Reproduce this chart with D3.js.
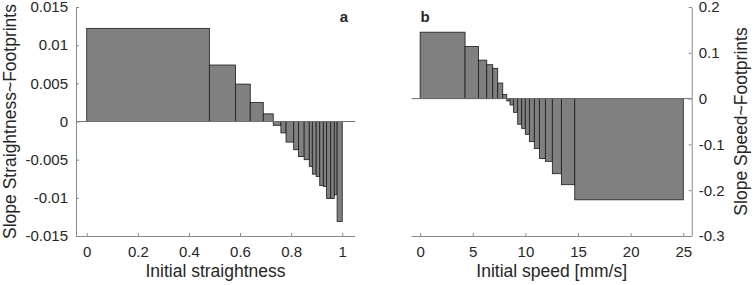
<!DOCTYPE html>
<html lang="en">
<head>
    <meta charset="UTF-8">
    <title>Slopes</title>
    <script src="https://d3js.org/d3.v7.min.js"></script>
    <style>
        body {margin: 0; background: white;}
        text {font-family: "Liberation Sans", Arial, sans-serif; fill: #262626;}
        .axis path, .axis line {stroke: #8a8a8a;}
        .axis text {font-size: 15px; fill: #262626; font-family: "Liberation Sans", Arial, sans-serif;}
    </style>
</head>
<body>
<script>
    const width = 753;
    const height = 285;

    // panel a: bin edges along initial straightness and slope per bin
    const aEdges = [0, 0.48, 0.582, 0.64, 0.691, 0.730, 0.760, 0.780, 0.810, 0.829, 0.851,
                    0.871, 0.883, 0.898, 0.912, 0.926, 0.939, 0.955, 0.969, 0.980, 1.0];
    const aValues = [0.0122, 0.0074, 0.0049, 0.0025, 0.001, -0.0005, -0.0015, -0.0027, -0.0037, -0.0046,
                     -0.0050, -0.0059, -0.0069, -0.0072, -0.0084, -0.0085, -0.0101, -0.0101, -0.0096, -0.0131];
    const aXTicks = [0, 0.2, 0.4, 0.6, 0.8, 1];
    const aYTicks = [-0.015, -0.01, -0.005, 0, 0.005, 0.01, 0.015];

    // panel b: bin edges along initial speed and slope per bin
    const bEdges = [0, 4.27, 5.54, 6.33, 6.90, 7.37, 7.85, 8.23, 8.54, 8.86, 9.27,
                    9.65, 9.99, 10.38, 10.85, 11.33, 11.9, 12.56, 13.42, 14.69, 25.0];
    const bValues = [0.145, 0.114, 0.084, 0.074, 0.066, 0.034, 0.009, -0.005, -0.014, -0.030,
                     -0.056, -0.065, -0.078, -0.094, -0.109, -0.131, -0.137, -0.164, -0.188, -0.221];
    const bXTicks = [0, 5, 10, 15, 20, 25];
    const bYTicks = [-0.3, -0.2, -0.1, 0, 0.1, 0.2];

    const svg = d3.select("body").append("svg")
            .attr("width", width).attr("height", height);

    const plotTop = 7, plotBottom = 236;
    const fmt = d => String(d);   // plain hyphen minus, like matlab

    function bins(edges, values) {
        return values.map((v, i) => ({x0: edges[i], x1: edges[i + 1], v: v}));
    }

    function panel(opts) {
        const x = d3.scaleLinear().domain(opts.xDomain).range([opts.left, opts.right]);
        const y = d3.scaleLinear().domain(opts.yDomain).range([plotBottom, plotTop]);

        const g = svg.append("g");

        g.selectAll("rect.bar")
                .data(bins(opts.edges, opts.values))
                .enter()
                .append("rect")
                .attr("class", "bar")
                .attr("x", d => x(d.x0))
                .attr("width", d => x(d.x1) - x(d.x0))
                .attr("y", d => y(Math.max(0, d.v)))
                .attr("height", d => Math.abs(y(d.v) - y(0)))
                .style("fill", "#808080")
                .style("stroke", "#1a1a1a")
                .style("stroke-width", 0.8);

        // baseline
        g.append("line")
                .attr("x1", opts.left).attr("x2", opts.right)
                .attr("y1", y(0)).attr("y2", y(0))
                .style("stroke", "#707070").style("stroke-width", 1);

        g.append("g").attr("class", "axis")
                .attr("transform", `translate(0,${plotBottom})`)
                .call(d3.axisBottom(x).tickValues(opts.xTicks).tickFormat(fmt)
                        .tickSizeInner(-3).tickSizeOuter(0).tickPadding(10))
                .call(a => a.select(".domain").attr("d", `M${opts.left},0.5H${opts.right}`));

        const yAxis = opts.side === "left" ? d3.axisLeft(y) : d3.axisRight(y);
        g.append("g").attr("class", "axis")
                .attr("transform", `translate(${opts.side === "left" ? opts.left : opts.right},0)`)
                .call(yAxis.tickValues(opts.yTicks).tickFormat(fmt).tickSizeInner(-3).tickSizeOuter(0)
                        .tickPadding(opts.side === "left" ? 8 : 7));

        g.append("text")
                .attr("x", (opts.left + opts.right) / 2)
                .attr("y", 277)
                .attr("text-anchor", "middle")
                .style("font-size", "17.5px")
                .text(opts.xLabel);

        g.append("text")
                .attr("transform", `translate(${opts.yLabelX},${(plotTop + plotBottom) / 2}) rotate(-90)`)
                .attr("text-anchor", "middle")
                .style("font-size", "17.5px")
                .text(opts.yLabel);

        g.append("text")
                .attr("x", opts.tagX).attr("y", 22)
                .attr("text-anchor", "middle")
                .style("font-size", "15px").style("font-weight", "bold")
                .text(opts.tag);
    }

    panel({
        left: 76, right: 355, xDomain: [-0.042, 1.05], yDomain: [-0.015, 0.015],
        edges: aEdges, values: aValues, xTicks: aXTicks, yTicks: aYTicks, side: "left",
        xLabel: "Initial straightness", yLabel: "Slope Straightness~Footprints",
        yLabelX: 16, tag: "a", tagX: 344
    });

    panel({
        left: 411.7, right: 691.7, xDomain: [-0.8, 25.8], yDomain: [-0.3, 0.2],
        edges: bEdges, values: bValues, xTicks: bXTicks, yTicks: bYTicks, side: "right",
        xLabel: "Initial speed [mm/s]", yLabel: "Slope Speed~Footprints",
        yLabelX: 747, tag: "b", tagX: 425
    });
</script>
</body>
</html>
